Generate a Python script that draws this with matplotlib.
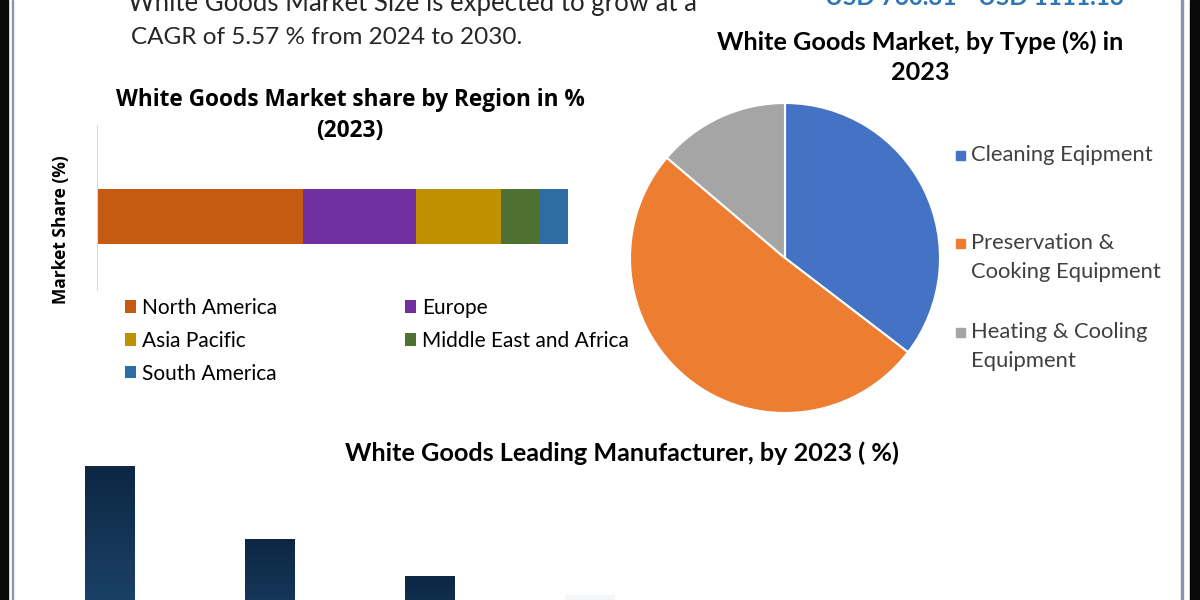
import numpy as np
import matplotlib
matplotlib.use("Agg")
import matplotlib.pyplot as plt
from matplotlib.patches import Rectangle
from matplotlib.colors import LinearSegmentedColormap

# region shares (stacked bar)
regions = ["North America", "Europe", "Asia Pacific", "Middle East and Africa", "South America"]
region_share = [43.7, 24.0, 18.0, 8.1, 6.2]
region_colors = ["#c55a11", "#7030a0", "#bf9000", "#4e7131", "#2e6ca4"]

# type shares (pie)
types = ["Cleaning Eqipment", "Preservation &\nCooking Equipment", "Heating & Cooling\nEquipment"]
type_share = [35.4, 50.8, 13.8]
type_colors = ["#4472c4", "#ed7d31", "#a5a5a5"]

# leading manufacturers (bars cut off by the frame)
maker_share = [28.0, 21.0, 17.5, 15.7]
maker_colors = ["dark", "dark", "dark", "faint"]

HUMAN = ["Lato", "DejaVu Sans"]
BOLD = ["Open Sans", "DejaVu Sans"]

W, H = 1200, 600
fig = plt.figure(figsize=(12, 6), dpi=100)
fig.patch.set_facecolor("white")


def fx(px):
    return px / W


def fy(py):
    return 1 - py / H


# header text (cut off at the top)
fig.text(fx(128), fy(3), "White Goods Market Size is expected to grow at a",
         family=HUMAN, fontsize=18.5, color="#262626", va="center", ha="left")
fig.text(fx(131), fy(37), "CAGR of 5.57 % from 2024 to 2030.",
         family=HUMAN, fontsize=17.5, color="#262626", va="center", ha="left")
fig.text(fx(825), fy(-3), "USD 760.31", family=HUMAN, fontsize=17.5,
         fontweight="bold", color="#2e75b6", va="center", ha="left")
fig.text(fx(978), fy(-3), "USD 1111.13", family=HUMAN, fontsize=17.5,
         fontweight="bold", color="#2e75b6", va="center", ha="left")

# ---- region stacked bar ----
ax1 = fig.add_axes([fx(97), fy(290), fx(471), 165 / H])
left = 0
for name, val, col in zip(regions, region_share, region_colors):
    ax1.barh(0, val, left=left, height=0.6, color=col, label=name)
    left += val
ax1.set_xlim(0, sum(region_share))
ax1.set_ylim(-0.8, 1.0)
for s in ["top", "right", "bottom"]:
    ax1.spines[s].set_visible(False)
ax1.spines["left"].set_color("#d9d9d9")
ax1.set_xticks([])
ax1.set_yticks([])
ax1.set_facecolor("none")
fig.text(fx(350), fy(100), "White Goods Market share by Region in %",
         family=BOLD, fontsize=16.3, fontweight="bold", ha="center", va="center")
fig.text(fx(350), fy(131), "(2023)",
         family=BOLD, fontsize=16.3, fontweight="bold", ha="center", va="center")
fig.text(fx(61), fy(230), "Market Share (%)", family=BOLD, fontsize=12.5,
         fontweight="bold", rotation=90, ha="center", va="center")

h, l = ax1.get_legend_handles_labels()
order = [0, 2, 4, 1, 3]
fig.legend([h[i] for i in order], [l[i] for i in order], ncol=2,
           loc="upper left", bbox_to_anchor=(fx(106), fy(279)), frameon=False,
           prop={"family": HUMAN, "size": 15}, handlelength=0.55, handleheight=0.55,
           handletextpad=0.3, labelspacing=0.62, columnspacing=6.1)

# ---- type pie ----
ax2 = fig.add_axes([fx(630), fy(413), fx(310), 310 / H])
ax2.pie(type_share, colors=type_colors, startangle=90, counterclock=False,
        wedgeprops={"edgecolor": "white", "linewidth": 1.5})
ax2.set_xlim(-1, 1)
ax2.set_ylim(-1, 1)
fig.text(fx(920), fy(42), "White Goods Market, by Type (%) in",
         family=HUMAN, fontsize=18.2, fontweight="bold", ha="center", va="center")
fig.text(fx(920), fy(72), "2023",
         family=HUMAN, fontsize=18.2, fontweight="bold", ha="center", va="center")
leg_y = [155, 243, 332]
for name, col, py in zip(types, type_colors, leg_y):
    fig.patches.append(Rectangle((fx(956), fy(py + 5)), fx(9), 9 / H,
                                 transform=fig.transFigure, color=col))
    fig.text(fx(971), fy(py - 10), name, family=HUMAN, fontsize=15.8,
             color="#404040", ha="left", va="top", linespacing=1.55)

# ---- manufacturer bars ----
ax3 = fig.add_axes([0, fy(760), 1, 320 / H])
x = np.arange(len(maker_share))
cmap = LinearSegmentedColormap.from_list("navy", ["#2a5f8f", "#0d2744"])
grad = np.linspace(0, 1, 256).reshape(-1, 1)
for xi, val, kind in zip(x, maker_share, maker_colors):
    if kind == "dark":
        ax3.imshow(grad, cmap=cmap, origin="lower", aspect="auto",
                   extent=(xi - 0.156, xi + 0.156, 0, val), zorder=2)
    else:
        ax3.bar(xi, val, width=0.3125, color="#f4f7fa", zorder=2)
ax3.set_xlim(-110 / 160, (W - 110) / 160)
ax3.set_ylim(0, 30.5)
ax3.axis("off")
fig.text(fx(622), fy(453), "White Goods Leading Manufacturer, by 2023 ( %)",
         family=HUMAN, fontsize=18.2, fontweight="bold", ha="center", va="center")

# frame: black borders and thin inner lines
fig.patches.append(Rectangle((0, 0), fx(8), 1, transform=fig.transFigure,
                             color="#0a0a0a", zorder=10))
fig.patches.append(Rectangle((fx(1190), 0), fx(10), 1, transform=fig.transFigure,
                             color="#0a0a0a", zorder=10))
fig.patches.append(Rectangle((fx(11.5), 0), fx(1.5), 1, transform=fig.transFigure,
                             color="#8a94b0", zorder=10))
fig.patches.append(Rectangle((fx(1181), 0), fx(1.5), 1, transform=fig.transFigure,
                             color="#8a94b0", zorder=10))

fig.savefig("out.png", dpi=100)
